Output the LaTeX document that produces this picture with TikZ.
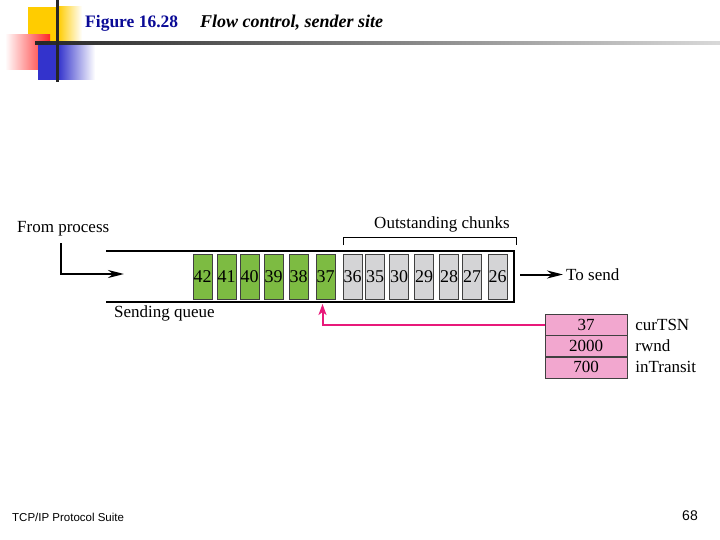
\documentclass[tikz,border=0pt]{standalone}
\usepackage{fontspec}
\setmainfont{Liberation Serif}
\newfontfamily\footfont{Liberation Sans}
\usetikzlibrary{positioning,arrows.meta}
\definecolor{chunkgreen}{RGB}{125,187,66}
\definecolor{chunkgray}{RGB}{212,212,214}
\definecolor{statepink}{RGB}{242,167,207}
\definecolor{ptrred}{RGB}{232,25,122}
\definecolor{titleblue}{RGB}{10,10,150}
\definecolor{decoyellow}{RGB}{255,204,0}
\definecolor{decoblue}{RGB}{51,51,204}

\begin{document}
\begin{tikzpicture}[x=1pt,y=-1pt,>={Stealth[length=16pt,width=8pt,inset=5pt]}]
\tikzset{
  sent/.style={rectangle, draw=black!75, fill=chunkgray, minimum width=19pt, minimum height=45pt, inner sep=0pt, font=\fontsize{18}{20}\selectfont},
  queued/.style={sent, fill=chunkgreen},
  field/.style={rectangle, draw=black!75, fill=statepink, minimum width=82pt, minimum height=21pt, inner sep=0pt, font=\fontsize{17}{19}\selectfont},
  lbl/.style={anchor=west, inner sep=0pt, font=\fontsize{17}{19}\selectfont}
}
\useasboundingbox (0,0) rectangle (720,540);

% Slide decoration
\fill[decoyellow] (28,7) rectangle (58,45);
\shade[left color=decoyellow, right color=white] (58,7) rectangle (82,45);
\shade[left color=white, right color=red!85] (5,35) rectangle (50,70);
\fill[decoblue] (38,43) rectangle (58,80);
\shade[left color=decoblue, right color=white] (58,43) rectangle (95,80);
\shade[left color=black!85, right color=black!15] (35,42) rectangle (720,45);
\fill[black!85] (56,0) rectangle (58.5,82);

% Title
\node[anchor=west, inner sep=0pt, text=titleblue, font=\fontsize{17.5}{19}\selectfont\bfseries] (fig) at (85,23) {Figure 16.28};
\node[anchor=west, inner sep=0pt, font=\fontsize{18}{20}\selectfont\bfseries\itshape] (title) at (200,23) {Flow control, sender site};

% Sending queue
\draw[line width=1.5pt] (106,251) -- (514,251) -- (514,302) -- (106,302);
\node[queued] (c42) at (202.5,276.5) {42};
\node[queued] (c41) at (226.5,276.5) {41};
\node[queued] (c40) at (249.5,276.5) {40};
\node[queued] (c39) at (273.5,276.5) {39};
\node[queued] (c38) at (298.5,276.5) {38};
\node[queued] (c37) at (325.5,276.5) {37};
\node[sent] (c36) at (352.5,276.5) {36};
\node[sent] (c35) at (375,276.5) {35};
\node[sent] (c30) at (399,276.5) {30};
\node[sent] (c29) at (424,276.5) {29};
\node[sent] (c28) at (449,276.5) {28};
\node[sent] (c27) at (472,276.5) {27};
\node[sent] (c26) at (497.5,276.5) {26};

% Outstanding bracket
\draw[line width=1pt] (343,245) -- (343,237) -- (516,237) -- (516,245);
\node[lbl, anchor=center] (outst) at (442,224) {Outstanding chunks};

% State variables
\node[field] (tsn) at (586,324.5) {37};
\node[field, below=0pt of tsn] (rwnd) {2000};
\node[field, below=0pt of rwnd] (transit) {700};
\node[lbl, right=8pt of tsn] {curTSN};
\node[lbl, right=8pt of rwnd] {rwnd};
\node[lbl, right=8pt of transit] {inTransit};

% Labels
\node[lbl] (fromproc) at (17,229) {From process};
\node[lbl] (queue) at (114,313) {Sending queue};
\node[lbl] (tosend) at (566,274.5) {To send};

% Arrows
\coordinate (src) at (61,243);
\coordinate (qin) at (124,274);
\coordinate (qout) at (520,274.5);
\coordinate (tsnptr) at (322.5,304);
\draw[line width=2pt, ->] (src) |- (qin);
\draw[line width=2pt, ->] (qout) -- ([xshift=-3pt]tosend.west);
\draw[line width=2pt, ptrred, -{Stealth[length=11pt,width=8pt,inset=3pt]}] (tsn.west) -| (tsnptr);

% Footer
\node[anchor=west, inner sep=0pt, font=\footfont\fontsize{11.5}{13}\selectfont] (suite) at (12,517) {TCP/IP Protocol Suite};
\node[anchor=east, inner sep=0pt, font=\footfont\fontsize{14}{16}\selectfont] (page) at (698,516) {68};
\end{tikzpicture}
\end{document}
